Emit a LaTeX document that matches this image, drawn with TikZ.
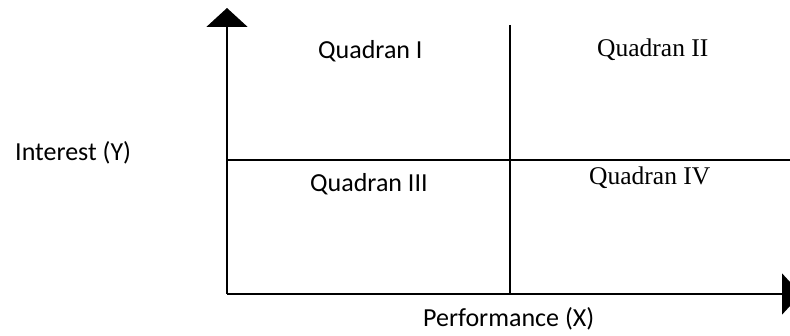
\documentclass[tikz,border=0pt]{standalone}
\usepackage{fontspec}
\newfontfamily\calfont{Carlito}
\newfontfamily\timesfont{Liberation Serif}
\usetikzlibrary{arrows.meta}
\begin{document}
\begin{tikzpicture}[x=1pt,y=-1pt,
  axisline/.style={line width=2pt,-{Triangle[width=41pt,length=19pt]}},
  gridline/.style={line width=2pt},
  sanslabel/.style={font=\calfont\fontsize{26}{30}\selectfont,inner sep=0pt,anchor=base west},
  seriflabel/.style={font=\timesfont\fontsize{25.5}{30}\selectfont,inner sep=0pt,anchor=base west}]
\useasboundingbox (0,0) rectangle (790,336);
\coordinate (O) at (227,294);
\coordinate (Ytop) at (227,8);
\coordinate (Xend) at (801,294);
\coordinate (Vtop) at (510,25);
\coordinate (Vbot) at (510,294);
\coordinate (Hl) at (227,160);
\coordinate (Hr) at (792,160);
\draw[gridline] (Vtop) -- (Vbot);
\draw[gridline] (Hl) -- (Hr);
\draw[axisline] (O) -- (Ytop);
\draw[axisline] (O) -- (Xend);
\node[sanslabel] (q1) at (318,59) {Quadran I};
\node[seriflabel] (q2) at (597,57) {Quadran II};
\node[sanslabel] (q3) at (310,192) {Quadran III};
\node[seriflabel] (q4) at (589,185) {Quadran IV};
\node[sanslabel] (iy) at (15,161) {Interest (Y)};
\node[sanslabel] (px) at (423,327) {Performance (X)};
\end{tikzpicture}
\end{document}
